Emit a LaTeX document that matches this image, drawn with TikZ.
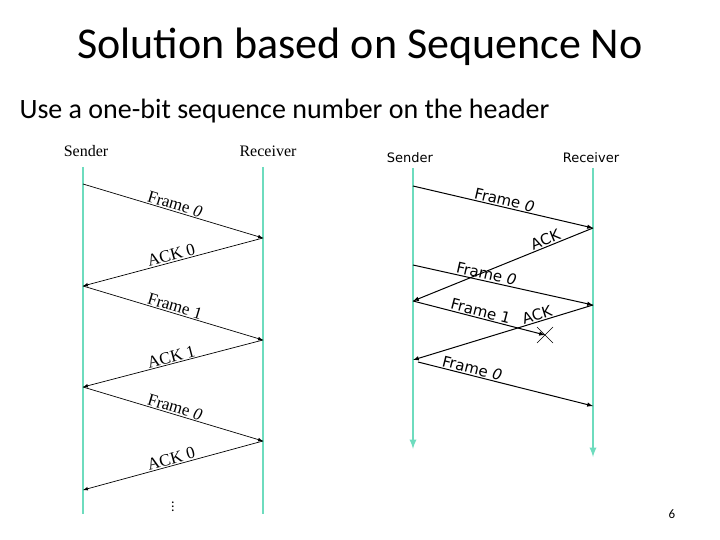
\documentclass[tikz,border=0pt]{standalone}
\usepackage{fontspec}
\usetikzlibrary{calc}
\setmainfont{Carlito}
\newfontfamily\serifd{Liberation Serif}
\newfontfamily\dvs{DejaVu Sans}
\definecolor{life}{RGB}{110,220,190}
\begin{document}
\begin{tikzpicture}[x=1pt,y=-1pt,
  lifel/.style={draw=life,line width=1.2pt},
  lifer/.style={draw=life,line width=2.2pt,-latex},
  msgl/.style={draw=black,line width=0.7pt,-latex},
  msgr/.style={draw=black,line width=1pt,-latex},
  labl/.style={font=\serifd\fontsize{17}{17}\selectfont,inner sep=1pt},
  labr/.style={font=\dvs\fontsize{15}{15}\selectfont,inner sep=1pt},
  hd/.style={font=\serifd\fontsize{16}{16}\selectfont},
  hdr/.style={font=\dvs\fontsize{13}{13}\selectfont}]
\useasboundingbox (0,0) rectangle (720,540);
\node (title) at (360,47) {\fontsize{44}{44}\selectfont Solution based on Sequence No};
\node[anchor=west] (sub) at (16,111) {\fontsize{28}{28}\selectfont Use a one-bit sequence number on the header};
\node (pg) at (672,514) {\fontsize{13}{13}\selectfont 6};
% left diagram
\node[hd] (ls) at (86,151) {Sender};
\node[hd] (lr) at (268,151) {Receiver};
\coordinate (a0) at (83,167); \coordinate (a1) at (83,514);
\coordinate (b0) at (263,167); \coordinate (b1) at (263,514);
\draw[lifel] (a0) -- (a1);
\draw[lifel] (b0) -- (b1);
\coordinate (s1) at (83,184); \coordinate (r1) at (263,238);
\coordinate (s2) at (83,286); \coordinate (r2) at (263,340);
\coordinate (s3) at (83,387); \coordinate (r3) at (263,441);
\coordinate (s4) at (83,490);
\draw[msgl] (s1) -- node[labl,above,sloped] {Frame \textit{0}} (r1);
\draw[msgl] (r1) -- node[labl,above,sloped] {ACK 0} (s2);
\draw[msgl] (s2) -- node[labl,above,sloped] {Frame 1} (r2);
\draw[msgl] (r2) -- node[labl,above,sloped] {ACK 1} (s3);
\draw[msgl] (s3) -- node[labl,above,sloped] {Frame \textit{0}} (r3);
\draw[msgl] (r3) -- node[labl,above,sloped] {ACK 0} (s4);
\node (dots) at (173,504) {\fontsize{14}{14}\selectfont$\vdots$};
% right diagram
\node[hdr] (rs) at (410,158) {Sender};
\node[hdr] (rr) at (591,158) {Receiver};
\coordinate (c0) at (413,168); \coordinate (c1) at (413,449);
\coordinate (d0) at (593,168); \coordinate (d1) at (593,457);
\draw[lifer] (c0) -- (c1);
\draw[lifer] (d0) -- (d1);
\coordinate (t1) at (413,186); \coordinate (q1) at (593,228);
\coordinate (t2) at (413,265); \coordinate (t3) at (413,301);
\coordinate (q2) at (593,305); \coordinate (lost) at (545,335);
\coordinate (t4) at (413,360); \coordinate (t5) at (418,362);
\coordinate (q3) at (593,406);
\draw[msgr] (t1) -- node[labr,above,sloped,pos=0.5] {Frame \textit{0}} (q1);
\draw[msgr] (q1) -- node[labr,above,sloped,pos=0.25] {ACK} (t3);
\draw[msgr] (t2) -- node[labr,above,sloped,pos=0.4] {Frame \textit{0}} (q2);
\draw[msgr] (t3) -- node[labr,above,sloped,pos=0.5] {Frame 1} (lost);
\draw[msgr] (q2) -- node[labr,above,sloped,pos=0.3] {ACK} (t4);
\draw[msgr] (t5) -- node[labr,above,sloped,pos=0.3] {Frame \textit{0}} (q3);
\draw[line width=0.6pt] ($(lost)+(-8,-8)$) -- ($(lost)+(8,8)$) ($(lost)+(-8,8)$) -- ($(lost)+(8,-8)$);
\end{tikzpicture}
\end{document}
